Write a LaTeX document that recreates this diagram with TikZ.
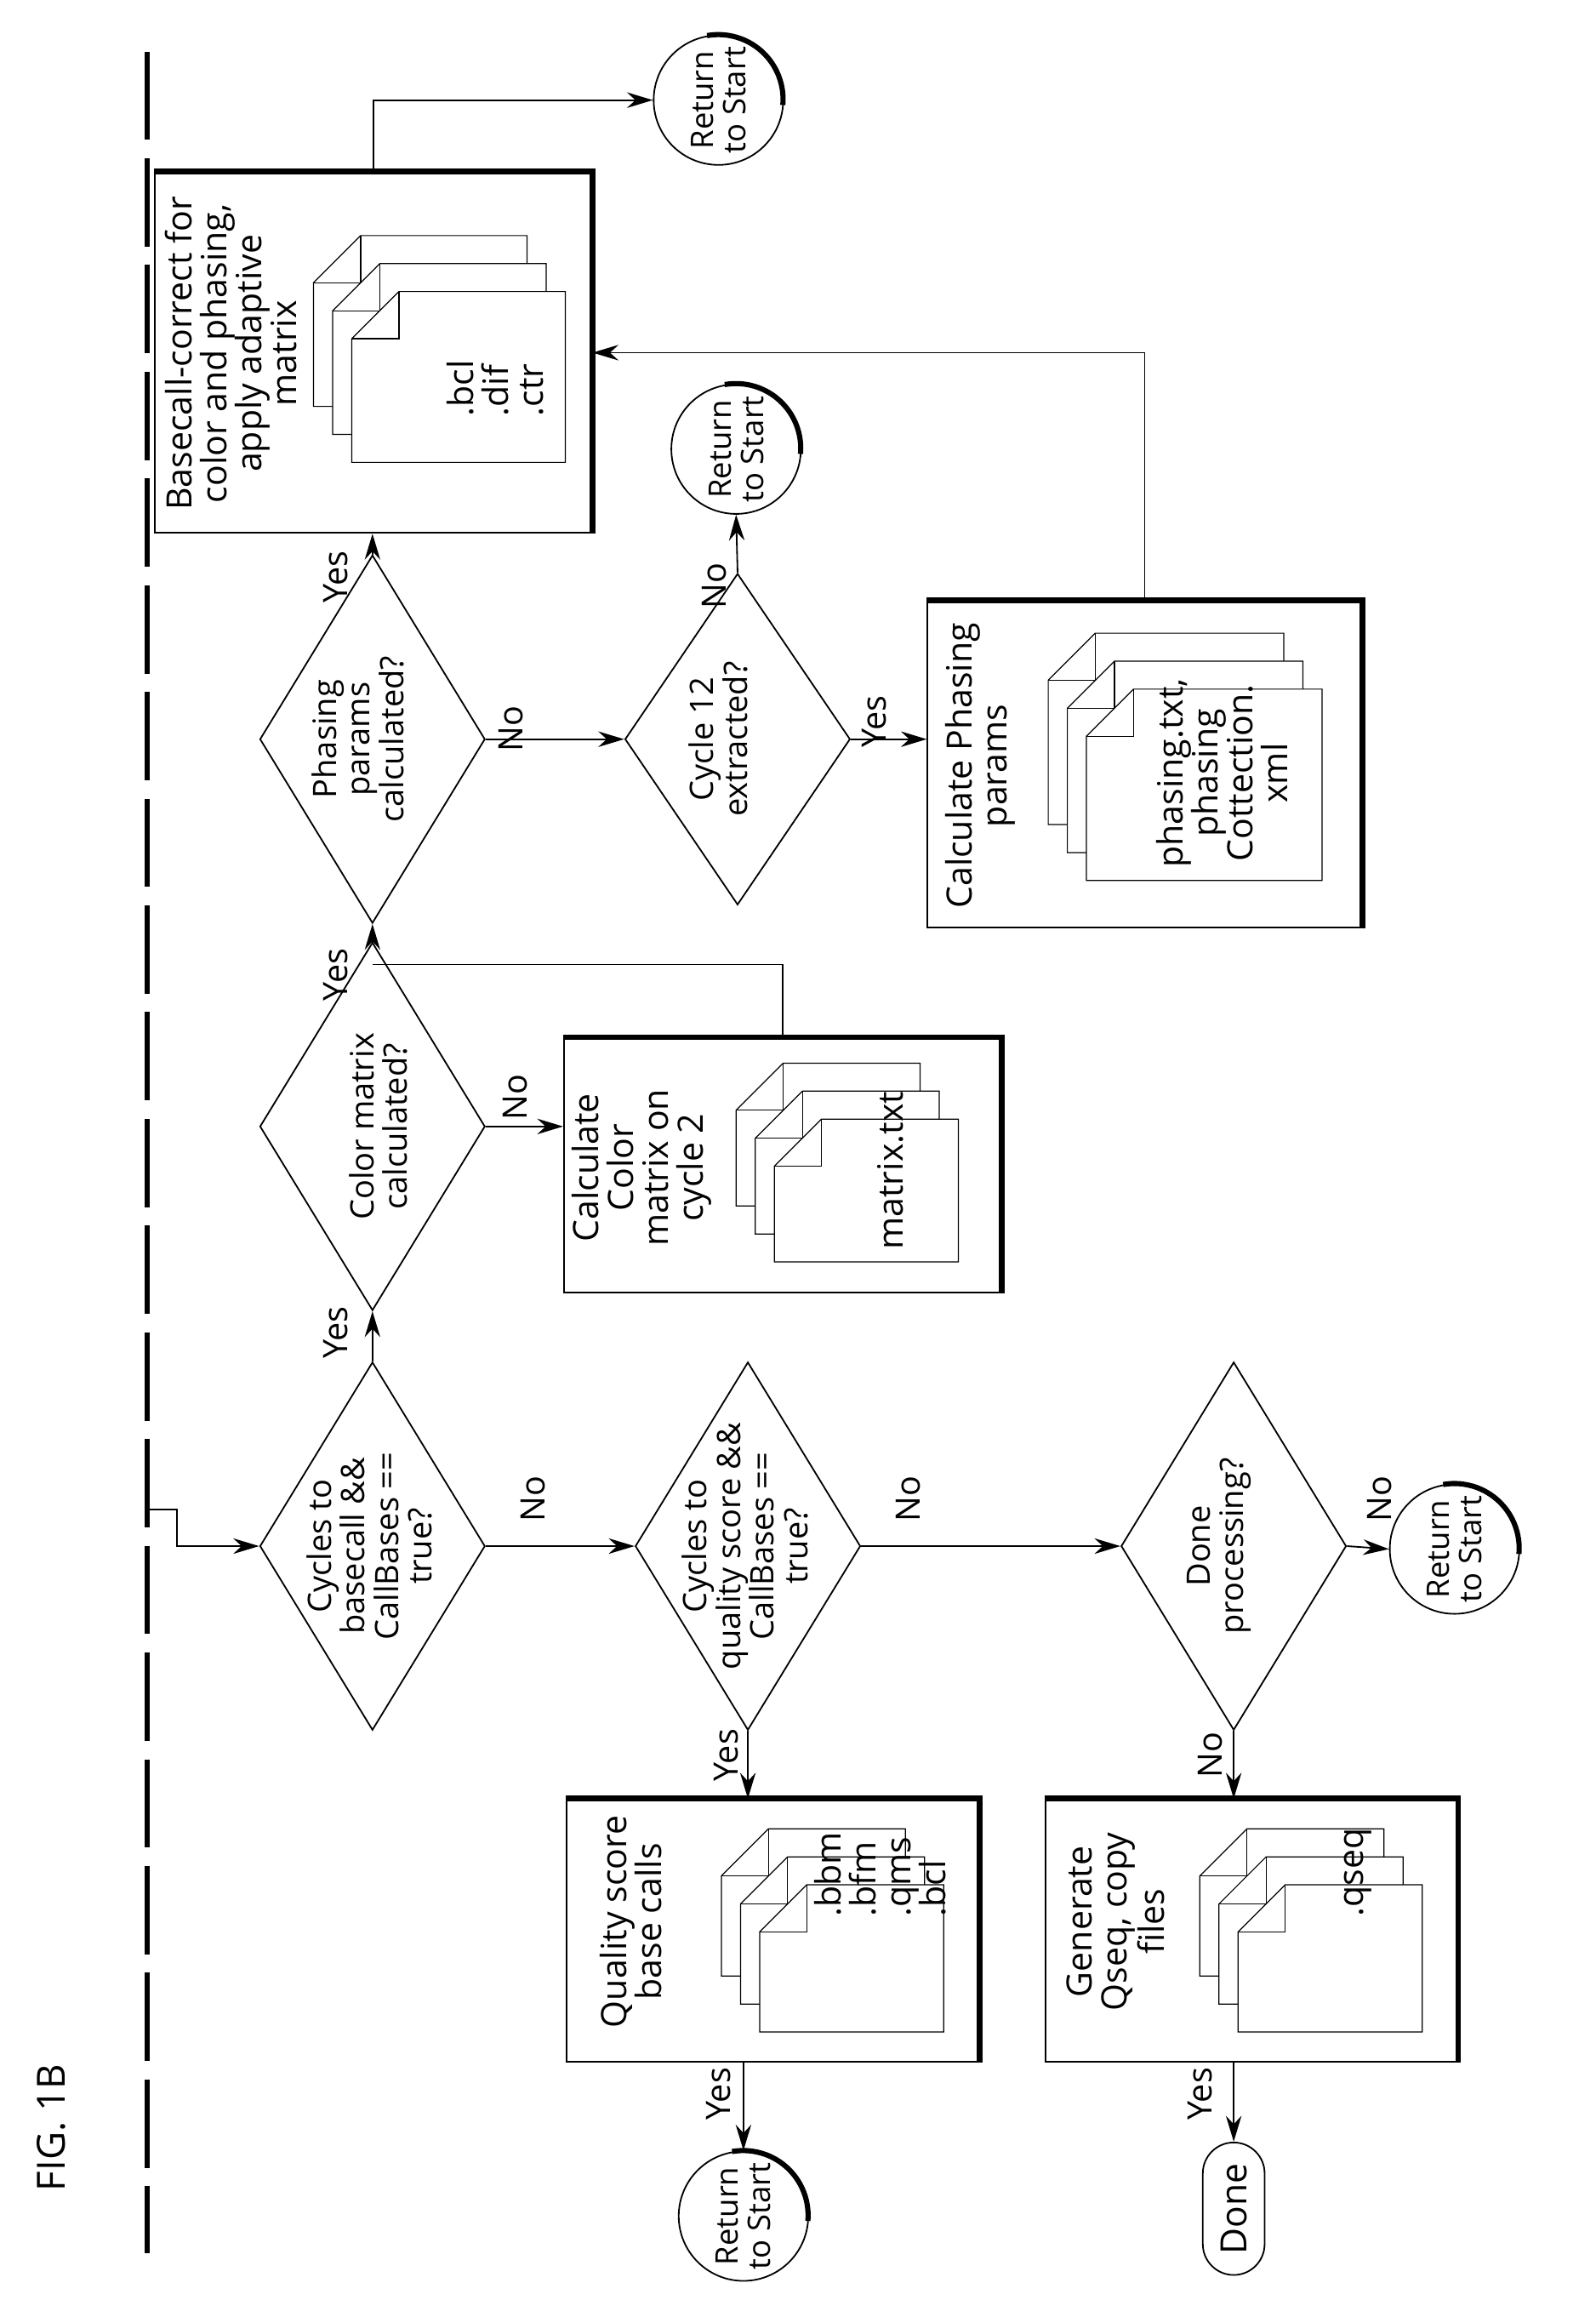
\documentclass[tikz,border=0pt]{standalone}
\usepackage{fontspec}
\setmainfont{Open Sans}
\usetikzlibrary{shapes.geometric,arrows.meta}
\newcommand\docstack[4]{%
  \foreach \i in {0,1,2}{%
    \filldraw[fill=white,thin] ({#1+13*\i},{#2+19*\i+32}) -- ++(32,-32) -- ++({#3-32},0) -- ++(0,#4) -- ++({-#3},0) -- cycle;
    \draw[thin] ({#1+13*\i+32},{#2+19*\i}) -- ++(0,32) -- ++(-32,0);
  }}
\begin{document}
\begin{tikzpicture}[x=0.02cm,y=-0.02cm,
  every node/.style={font=\fontsize{12.5}{13}\selectfont},
  rt/.style={rotate=90,align=center,inner sep=0pt},
  bt/.style={rt,font=\fontsize{13.5}{13.5}\selectfont},
  dia/.style={draw,shape=diamond,rotate=90,minimum width=5cm,minimum height=3.06cm,inner sep=0pt,line width=0.6pt},
  box/.style={draw,rectangle,line width=0.6pt,inner sep=0pt},
  ret/.style={draw,circle,minimum size=1.76cm,inner sep=0pt,line width=0.6pt},
  ar/.style={line width=0.6pt,-{Stealth[length=10pt,width=6pt]}},
  ln/.style={line width=0.6pt},
  lab/.style={rotate=90,inner sep=0pt,font=\fontsize{13}{13}\selectfont}]
\useasboundingbox (0,0) rectangle (1084,1562);
% dashed line and title
\draw[line width=1.7pt,dash pattern=on 1.2cm off 0.25cm] (100,35) -- (100,1530);
\node[rt,font=\fontsize{15}{16}\selectfont] (fig) at (35,1445) {FIG. 1B};
% boxes
\node[box,minimum width=5.94cm,minimum height=4.9cm] (b1) at (253.5,239.5) {};
\node[box,minimum width=5.94cm,minimum height=3.46cm] (b2) at (531.5,791.5) {};
\node[box,minimum width=5.9cm,minimum height=4.44cm] (b3) at (777.5,519) {};
\node[box,minimum width=5.6cm,minimum height=3.56cm] (b4) at (525,1311) {};
\node[box,minimum width=5.6cm,minimum height=3.56cm] (b5) at (850,1311) {};
\foreach \b in {b1,b2,b3,b4,b5}{\draw[line width=2.2pt] (\b.north west) -- (\b.north east) -- (\b.south east);}
\docstack{213}{160}{145}{116}
\docstack{500}{722}{125}{97}
\docstack{712}{430}{160}{130}
\docstack{490}{1242}{125}{100}
\docstack{815}{1242}{125}{100}
\node[bt,anchor=north] (t1) at (112,240) {Basecall-correct for\\color and phasing,\\apply adaptive\\matrix};
\node[bt,anchor=north west,align=left] (l1) at (303,283) {.bcl\\.dif\\.ctr};
\node[bt,anchor=north] (t2) at (388,793) {Calculate\\Color\\matrix on\\cycle 2};
\node[bt] (l2) at (605,795) {matrix.txt};
\node[bt,anchor=north] (t3) at (642,520) {Calculate Phasing\\params};
\node[bt] (l3) at (830,525) {phasing.txt,\\phasing\\Cottection.\\xml};
\node[bt,anchor=north] (t4) at (407,1305) {Quality score\\base calls};
\node[bt,anchor=north west,align=left] (l4) at (553,1302) {.bbm\\.bfm\\.qms\\.bcl};
\node[bt,anchor=north] (t5) at (724,1305) {Generate\\Qseq, copy\\files};
\node[bt,anchor=north west] (l5) at (913,1302) {.qseq};
% diamonds
\node[dia] (d1) at (253,1050) {};
\node[rt] at (251,1050) {Cycles to\\basecall \&\&\\CallBases ==\\true?};
\node[dia] (d2) at (253,765) {};
\node[rt] at (257,765) {Color matrix\\calculated?};
\node[dia] (d3) at (253,502) {};
\node[rt] at (243,502) {Phasing\\params\\calculated?};
\node[dia,minimum width=4.5cm] (d4) at (501,502) {};
\node[rt] at (488,502) {Cycle 12\\extracted?};
\node[dia] (d5) at (508,1050) {};
\node[rt] at (506,1050) {Cycles to\\quality score \&\&\\CallBases ==\\true?};
\node[dia] (d6) at (838,1050) {};
\node[rt] at (828,1050) {Done\\processing?};
% return circles
\node[ret] (r1) at (488,68) {};
\node[ret] (r2) at (500,305) {};
\node[ret] (r3) at (988,1052) {};
\node[ret] (r4) at (505,1505) {};
\foreach \r in {r1,r2,r3,r4}{
  \node[rt,font=\fontsize{12}{12.5}\selectfont] at (\r) {Return\\to Start};
  \draw[line width=2pt] (\r.100) arc (100:-5:0.88cm);}
\node[draw,rounded corners=0.42cm,rotate=90,minimum width=1.8cm,minimum height=0.84cm,inner sep=0pt,line width=0.6pt,font=\fontsize{14}{14}\selectfont] (done) at (838,1500) {Done};
% connectors
\coordinate (st) at (100,1025);
\draw[ar] (st) -- (120,1025) |- (d1.north);
\draw[ar] (d1.east) -- (d2.west);
\draw[ar] (d2.east) -- (d3.west);
\draw[ar] (d3.east) -- (d3.east |- b1.south);
\coordinate (jn) at (253,655);
\draw[ln] (b2.north) |- (jn);
\draw[ar] (b1.north) |- (r1.west);
\draw[ar] (d2.south) -- (d2.south -| b2.west);
\draw[ar] (d3.south) -- (d4.north);
\draw[ar] (d4.east) -- (r2.south);
\draw[ar] (d4.south) -- (d4.south -| b3.west);
\draw[ar] (b3.north) |- (b1.east);
\draw[ar] (d1.south) -- (d5.north);
\draw[ar] (d5.south) -- (d6.north);
\draw[ar] (d6.south) -- (r3.west);
\draw[ar] (d5.west) -- (d5.west |- b4.north);
\draw[ar] (d6.west) -- (d6.west |- b5.north);
\draw[ar] (b4.south -| r4.north) -- (r4.north);
\draw[ar] (b5.south -| done.east) -- (done.east);
% edge labels
\node[lab] (y1) at (228,905) {Yes};
\node[lab] (y2) at (228,662) {Yes};
\node[lab] (y3) at (228,392) {Yes};
\node[lab] (n1) at (350,745) {No};
\node[lab] (n2) at (347,495) {No};
\node[lab] (n3) at (485,398) {No};
\node[lab] (y4) at (594,490) {Yes};
\node[lab] (n4) at (362,1018) {No};
\node[lab] (n5) at (617,1018) {No};
\node[lab] (n6) at (937,1018) {No};
\node[lab] (y5) at (493,1192) {Yes};
\node[lab] (n7) at (822,1192) {No};
\node[lab] (y6) at (488,1422) {Yes};
\node[lab] (y7) at (815,1422) {Yes};
\end{tikzpicture}
\end{document}
